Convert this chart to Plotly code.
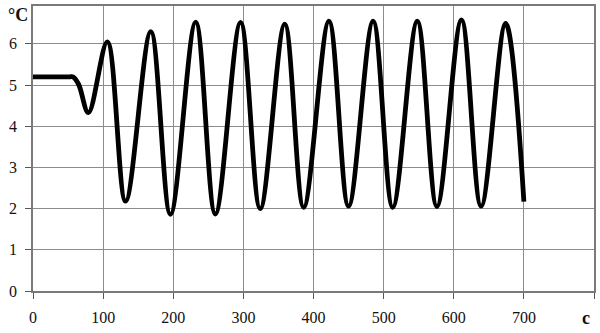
import plotly.graph_objects as go

# Curve key points (time, temperature)
t_vals = [0, 52, 57, 65, 79, 106, 132, 168, 196, 232, 260, 296, 324, 359, 386,
          422, 450, 485, 513, 548, 576, 611, 639, 674, 700]
temp_vals = [5.2, 5.2, 5.2, 5.02, 4.33, 6.05, 2.18, 6.3, 1.86, 6.53, 1.87, 6.52, 2.0,
             6.48, 2.03, 6.55, 2.06, 6.55, 2.03, 6.55, 2.05, 6.58, 2.06, 6.5, 2.17]

x_ticks = [0, 100, 200, 300, 400, 500, 600, 700, 800]
x_tick_text = ["0", "100", "200", "300", "400", "500", "600", "700", ""]
y_ticks = [0, 1, 2, 3, 4, 5, 6]
y_tick_text = ["0", "1", "2", "3", "4", "5", "6"]

fig = go.Figure()
fig.add_trace(go.Scatter(
    x=t_vals, y=temp_vals, mode="lines",
    line=dict(color="black", width=4.8, shape="spline", smoothing=1.0),
    hoverinfo="skip", showlegend=False))

FAM = "Liberation Serif"
font = dict(family=FAM, size=16, color="#111")

fig.update_layout(
    width=600, height=333,
    margin=dict(l=33, r=4, t=5, b=42),
    paper_bgcolor="white", plot_bgcolor="white",
    font=font,
    xaxis=dict(range=[0, 800], tickvals=x_ticks, ticktext=x_tick_text,
               showgrid=True, gridcolor="#8c8c8c", gridwidth=1,
               showline=True, linecolor="#7a7a7a", linewidth=1.5, mirror=True,
               ticks="outside", ticklen=6, tickcolor="#555", zeroline=False,
               ticklabelstandoff=5, tickfont=font),
    yaxis=dict(range=[0, 6.92], tickvals=y_ticks, ticktext=y_tick_text,
               showgrid=True, gridcolor="#8c8c8c", gridwidth=1,
               showline=True, linecolor="#7a7a7a", linewidth=1.5, mirror=True,
               ticks="outside", ticklen=6, tickcolor="#555", zeroline=False,
               ticklabelstandoff=5, tickfont=font),
    annotations=[
        dict(text="<b>°C</b>", xref="paper", yref="paper",
             x=-0.005, y=1.0 + 3 / 286, xanchor="right", yanchor="top",
             showarrow=False, font=dict(family=FAM, size=18, color="#111")),
        dict(text="<b>c</b>", xref="paper", yref="paper",
             x=0.985, y=-0.095, xanchor="center", yanchor="middle",
             showarrow=False, font=dict(family=FAM, size=18, color="#111")),
    ],
)

fig.write_html("out.html")
